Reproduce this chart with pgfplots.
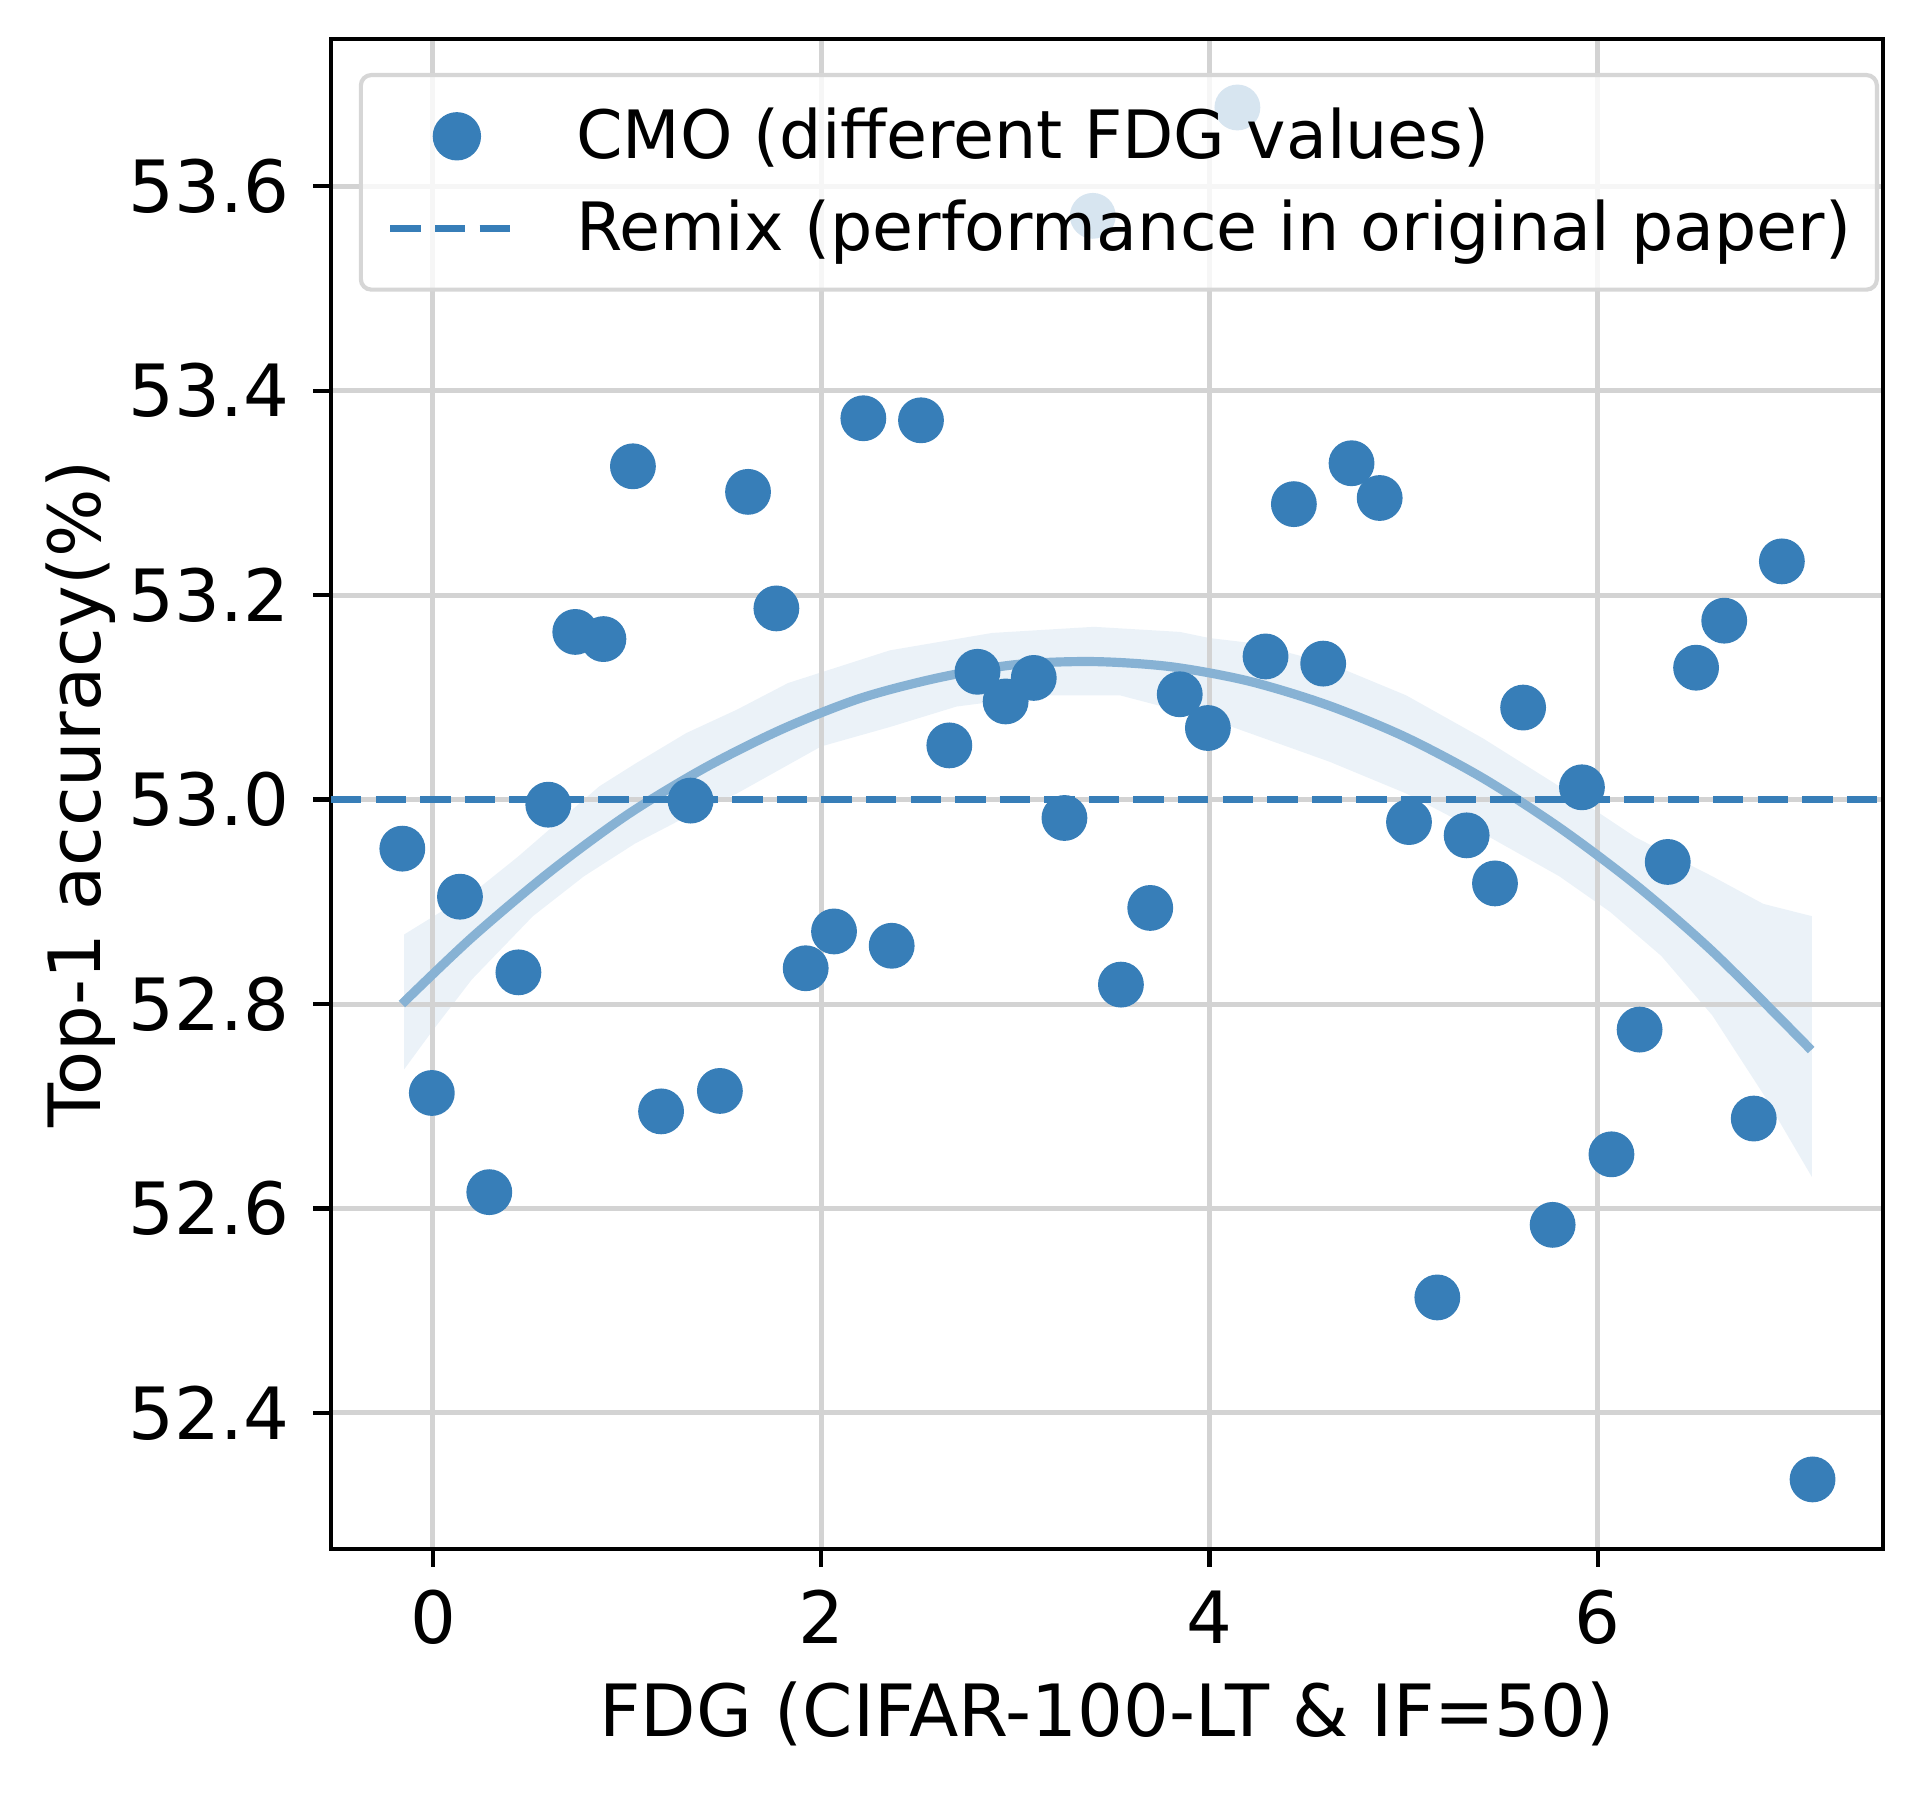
\documentclass[border=0pt]{standalone}
\usepackage{fontspec}
\setmainfont{DejaVu Sans}
\usepackage{pgfplots}
\pgfplotsset{compat=1.18}
\definecolor{ptblue}{RGB}{55,126,184}
\definecolor{fitblue}{RGB}{135,178,212}
\definecolor{bandblue}{RGB}{235,242,248}
\definecolor{gridgray}{RGB}{211,211,211}
\definecolor{leggray}{RGB}{214,214,214}
\newcommand{\chartfont}{\fontsize{17.3bp}{20bp}\selectfont}
\newcommand{\legfont}{\fontsize{16bp}{19bp}\selectfont}
\begin{document}
\chartfont
\begin{tikzpicture}
\begin{axis}[
  set layers,
  scale only axis, width=372.5bp, height=362.4bp,
  xmin=-0.5255, xmax=7.470, ymin=52.267, ymax=53.744,
  xtick={0,2,4,6},
  ytick={52.4,52.6,52.8,53.0,53.2,53.4,53.6},
  /pgf/number format/assume math mode=true,
  yticklabel style={/pgf/number format/.cd, fixed, fixed zerofill, precision=1, /tikz/.cd, anchor=east, inner sep=0pt, xshift=-5.5bp},
  xticklabel style={anchor=base, inner sep=0pt, yshift=-18.5bp},
  tick label style={font=\chartfont},
  label style={font=\chartfont},
  grid=major, major grid style={gridgray, line width=1.2bp},
  axis line style={black, line width=1bp},
  tick align=outside, tick pos=left, major tick length=4.3bp,
  tick style={black, line width=1bp},
  xlabel={FDG (CIFAR-100-LT \& IF=50)},
  ylabel={Top-1 accuracy(\%)},
  xlabel style={at={(axis description cs:0.5,0)}, anchor=base, inner sep=0pt, yshift=-45.1bp},
  ylabel style={at={(axis description cs:-0.1843,0.5)}, anchor=north, inner sep=0pt},
  legend cell align=left,
  legend style={at={(rel axis cs:0.9974,0.9775)}, anchor=north east,
    draw=leggray, line width=1bp, fill=white, fill opacity=0.8, text opacity=1, draw opacity=1,
    rounded corners=2.5bp, inner xsep=6.2bp, inner ysep=7.9bp,
    column sep=11.8bp, row sep=8.5bp, font=\legfont,
    nodes={inner sep=0pt, text height=12.1bp, text depth=1.5bp}},
  legend image code/.code={\draw[mark repeat=2,mark phase=2,fill opacity=1,draw opacity=1,#1] plot coordinates {(0bp,0bp) (15.95bp,0bp) (31.9bp,0bp)};},
]
% confidence band
\addplot[on layer=axis background, fill=bandblue, draw=none, forget plot] coordinates {
(-0.149,52.868) (0.227,52.912) (0.437,52.944) (0.595,52.970) (0.857,53.013) (1.041,53.035)
(1.304,53.065) (1.566,53.088) (1.829,53.114) (2.354,53.146) (2.880,53.163) (3.405,53.169)
(3.848,53.164) (4.0,53.158) (4.224,53.153) (4.619,53.133) (5.013,53.102) (5.408,53.060)
(5.802,53.013) (6.196,52.963) (6.59,52.925) (6.853,52.898) (7.103,52.886)
(7.103,52.631) (6.853,52.712) (6.59,52.789) (6.328,52.847) (6.065,52.890) (5.802,52.925)
(5.408,52.967) (5.013,53.006) (4.619,53.037) (4.0,53.079) (3.538,53.102) (3.143,53.102)
(2.697,53.091) (2.354,53.071) (2.0,53.052) (1.566,53.006) (1.304,52.983) (1.041,52.957)
(0.778,52.925) (0.515,52.886) (0.2,52.824) (-0.01,52.772) (-0.149,52.736)
};
% scatter
\addplot[on layer=axis background, only marks, mark=*, mark size=5.3bp, color=ptblue, mark options={fill=ptblue, draw=none}] coordinates {
(-0.158,52.952) (-0.006,52.713) (0.139,52.905) (0.290,52.616) (0.440,52.831)
(0.594,52.995) (0.733,53.164) (0.878,53.157) (1.030,53.326) (1.175,52.695)
(1.327,52.999) (1.478,52.715) (1.623,53.301) (1.769,53.187) (1.920,52.835)
(2.066,52.871) (2.217,53.373) (2.363,52.857) (2.514,53.371) (2.660,53.053)
(2.805,53.125) (2.950,53.096) (3.095,53.119) (3.253,52.982) (3.399,53.571)
(3.544,52.819) (3.695,52.894) (3.847,53.103) (3.992,53.070) (4.144,53.677)
(4.289,53.140) (4.435,53.289) (4.586,53.133) (4.732,53.329) (4.877,53.295)
(5.028,52.978) (5.174,52.513) (5.325,52.965) (5.471,52.918) (5.616,53.090)
(5.768,52.584) (5.919,53.012) (6.071,52.653) (6.216,52.775) (6.361,52.939)
(6.507,53.129) (6.652,53.175) (6.804,52.688) (6.949,53.233) (7.107,52.335)
};
\addlegendentry{CMO (different FDG values)}
% fitted curve
\addplot[fitblue, line width=2.2bp, smooth, forget plot] coordinates {
(-0.16,52.800) (0.2,52.865) (0.6,52.929) (1.0,52.985) (1.4,53.031) (1.8,53.069)
(2.2,53.099) (2.6,53.119) (3.0,53.132) (3.4,53.135) (3.8,53.130) (4.2,53.116)
(4.6,53.093) (5.0,53.062) (5.4,53.022) (5.8,52.973) (6.2,52.916) (6.6,52.850) (7.1,52.755)
};
% Remix reference
\addplot[ptblue, line width=1.8bp, dash pattern=on 7.3bp off 3.4bp] coordinates {(-0.5255,53.0) (7.470,53.0)};
\addlegendentry{Remix (performance in original paper)}
\end{axis}
\path ([xshift=-79.44bp, yshift=-58.56bp]current axis.south west) rectangle ([xshift=9.6bp, yshift=9.36bp]current axis.north east);
\end{tikzpicture}
\end{document}
